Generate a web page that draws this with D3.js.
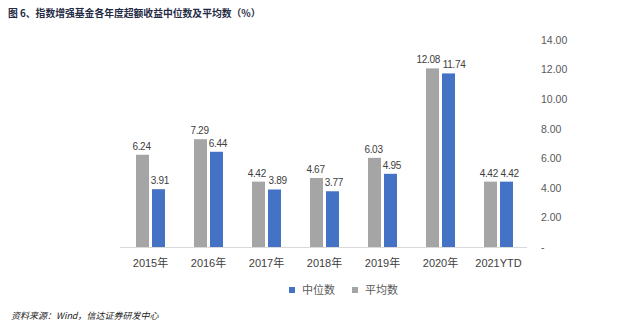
<!DOCTYPE html>
<html><head><meta charset="utf-8">
<script src="https://cdn.jsdelivr.net/npm/d3@7/dist/d3.min.js"></script>
<style>body{margin:0;background:#fff}svg{display:block}</style>
</head><body>
<script>
const categories = ["2015年","2016年","2017年","2018年","2019年","2020年","2021YTD"];
const seriesNames = ["平均数","中位数"];
const meanValues = [6.24, 7.29, 4.42, 4.67, 6.03, 12.08, 4.42];
const medianValues = [3.91, 6.44, 3.89, 3.77, 4.95, 11.74, 4.42];
const yTicks = [0, 2, 4, 6, 8, 10, 12, 14];
const legendOrder = ["中位数","平均数"];
const title = "图 6、指数增强基金各年度超额收益中位数及平均数（%）";
const source = "资料来源：Wind，信达证券研发中心";

const W = 640, H = 326;
const colors = {"平均数": "#A5A5A5", "中位数": "#4472C4"};
const svg = d3.select("body").append("svg").attr("width", W).attr("height", H);

const x0 = d3.scaleBand().domain(categories).range([121.5, 527.5]).paddingInner(0.5).paddingOuter(0.25);
const x1 = d3.scaleBand().domain(seriesNames).range([0, x0.bandwidth()]).paddingInner(0.1875);
const y = d3.scaleLinear().domain([0, 14]).range([247, 40]);

svg.append("text").attr("x", 8).attr("y", 17).attr("font-family", "Noto Sans CJK SC").attr("font-weight", "bold")
  .attr("font-size", 9.8).attr("fill", "#1f2a44").text(title);

// baseline
svg.append("line").attr("x1", 120).attr("x2", 527).attr("y1", y(0) + 0.5).attr("y2", y(0) + 0.5)
  .attr("stroke", "#D9D9D9").attr("stroke-width", 1);

// right axis
const yAxis = d3.axisRight(y).tickValues(yTicks).tickSize(0).tickPadding(0)
  .tickFormat(d => d === 0 ? "-" : d3.format(".2f")(d));
const ga = svg.append("g").attr("transform", "translate(541,0)").call(yAxis);
ga.select(".domain").remove();
ga.selectAll("text").attr("font-family", "Liberation Sans, Arial").attr("font-size", 10.5).attr("fill", "#595959");

const data = categories.map((c, i) => ({cat: c, vals: [{s: "平均数", v: meanValues[i]}, {s: "中位数", v: medianValues[i]}]}));
const lblShift = {"平均数": -1, "中位数": 1.5};

const groups = svg.selectAll("g.grp").data(data).enter().append("g").attr("class", "grp")
  .attr("transform", d => `translate(${x0(d.cat)},0)`);
groups.selectAll("rect").data(d => d.vals).enter().append("rect")
  .attr("x", d => x1(d.s)).attr("width", x1.bandwidth())
  .attr("y", d => y(d.v)).attr("height", d => y(0) - y(d.v))
  .attr("fill", d => colors[d.s]);
groups.each(function() {
  const g = d3.select(this);
  const lbls = g.selectAll("text.lbl").data(d => d.vals).enter().append("text").attr("class", "lbl")
    .attr("x", d => x1(d.s) + x1.bandwidth() / 2 + lblShift[d.s]).attr("y", d => y(d.v) - 5)
    .attr("text-anchor", "middle").attr("font-family", "Liberation Sans, Arial").attr("font-size", 10)
    .attr("letter-spacing", -0.3)
    .attr("fill", "#404040").text(d => d.v.toFixed(2));
  // simple collision avoidance: nudge the second label right if it overlaps the first
  const nodes = lbls.nodes();
  const b0 = nodes[0].getBBox(), b1 = nodes[1].getBBox();
  const hOverlap = b0.x + b0.width + 1 - b1.x;
  const vOverlap = Math.min(b0.y + b0.height, b1.y + b1.height) - Math.max(b0.y, b1.y);
  if (hOverlap > 0 && vOverlap > 0) {
    d3.select(nodes[1]).attr("x", +d3.select(nodes[1]).attr("x") + hOverlap / 2 + 1);
    d3.select(nodes[0]).attr("x", +d3.select(nodes[0]).attr("x") - hOverlap / 2);
  }
});

// x axis labels
const xAxis = d3.axisBottom(x0).tickSize(0).tickPadding(0);
const gx = svg.append("g").attr("transform", "translate(0,259)").call(xAxis);
gx.select(".domain").remove();
gx.selectAll("text").attr("font-family", "Liberation Sans, Noto Sans CJK SC").attr("font-size", 11).attr("fill", "#404040")
  .attr("dy", "0.71em");

// legend
const legX = [289, 352];
legendOrder.forEach((s, i) => {
  svg.append("rect").attr("x", legX[i]).attr("y", 287).attr("width", 6).attr("height", 6).attr("fill", colors[s]);
  svg.append("text").attr("x", legX[i] + 13).attr("y", 294).attr("font-family", "Noto Sans CJK SC")
    .attr("font-size", 11).attr("fill", "#595959").text(s);
});

svg.append("text").attr("x", 11).attr("y", 319).attr("font-family", "Noto Sans CJK SC, Liberation Sans")
  .attr("font-style", "italic").attr("font-size", 9).attr("fill", "#222").text(source);
</script>
</body></html>
